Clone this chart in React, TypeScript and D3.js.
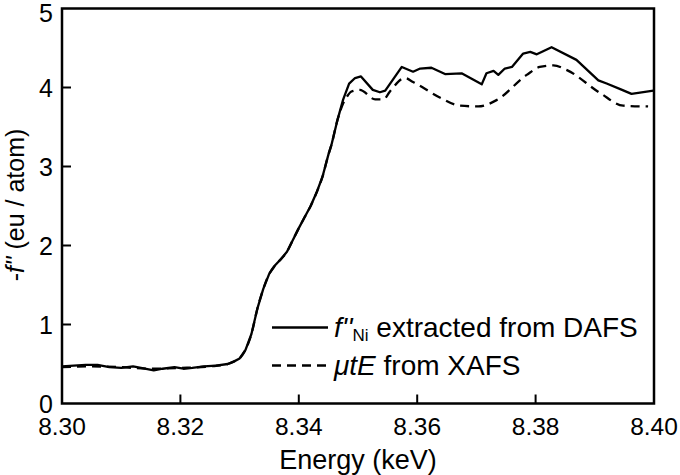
import React from "react";
import * as d3 from "d3";

const solidEnergy = [
  8.300, 8.302, 8.304, 8.306, 8.308, 8.310, 8.312, 8.314, 8.3155, 8.317, 8.319, 8.3205,
  8.322, 8.324, 8.326, 8.328, 8.329, 8.330, 8.331, 8.332, 8.333, 8.334, 8.335, 8.336,
  8.337, 8.338, 8.339, 8.340, 8.341, 8.342, 8.343, 8.344, 8.345, 8.3455, 8.3465, 8.3475,
  8.3485, 8.3495, 8.3505, 8.3525, 8.3537, 8.3546, 8.3574, 8.3593, 8.3605, 8.3624, 8.3647,
  8.3675, 8.3709, 8.3717, 8.3729, 8.3737, 8.3748, 8.3760, 8.3779, 8.3791, 8.3802, 8.3827,
  8.3869, 8.3906, 8.3920, 8.3943, 8.3962, 8.3999,
];
const solidValue = [
  0.47, 0.48, 0.49, 0.49, 0.46, 0.45, 0.47, 0.44, 0.42, 0.44, 0.46, 0.44,
  0.45, 0.47, 0.48, 0.50, 0.53, 0.57, 0.68, 0.88, 1.20, 1.45, 1.64, 1.75,
  1.83, 1.92, 2.07, 2.22, 2.36, 2.50, 2.67, 2.87, 3.15, 3.27, 3.58, 3.85,
  4.05, 4.12, 4.14, 3.97, 3.94, 3.96, 4.26, 4.20, 4.24, 4.25, 4.17,
  4.18, 4.04, 4.18, 4.21, 4.16, 4.24, 4.26, 4.43, 4.45, 4.42, 4.51,
  4.35, 4.09, 4.05, 3.98, 3.92, 3.96,
];

const dashedEnergy = [
  8.300, 8.305, 8.310, 8.315, 8.320, 8.325, 8.328, 8.329, 8.330, 8.331, 8.332, 8.333,
  8.334, 8.335, 8.336, 8.337, 8.338, 8.339, 8.340, 8.341, 8.342, 8.343, 8.344, 8.345,
  8.3455, 8.3465, 8.3475, 8.3481, 8.3489, 8.3503, 8.3529, 8.3543, 8.3554, 8.3579, 8.3593,
  8.3639, 8.3672, 8.3703, 8.3734, 8.3785, 8.3807, 8.3830, 8.3853, 8.3909, 8.3948, 8.3990,
];
const dashedValue = [
  0.46, 0.47, 0.46, 0.44, 0.45, 0.47, 0.50, 0.53, 0.57, 0.68, 0.88, 1.20,
  1.45, 1.64, 1.75, 1.83, 1.92, 2.07, 2.22, 2.36, 2.50, 2.67, 2.87, 3.15,
  3.27, 3.58, 3.80, 3.88, 3.95, 3.97, 3.85, 3.85, 3.95, 4.12, 4.07,
  3.87, 3.77, 3.76, 3.84, 4.16, 4.26, 4.28, 4.22, 3.93, 3.77, 3.76,
];

const xTicks = [8.30, 8.32, 8.34, 8.36, 8.38, 8.40];
const yTicks = [0, 1, 2, 3, 4, 5];

const W = 680;
const H = 475;
const left = 62;
const right = 654;
const top = 8.5;
const bottom = 403.5;
const FONT = "'Liberation Sans', Arial, Helvetica, sans-serif";

export default function App() {
  const x = d3.scaleLinear().domain([8.30, 8.40]).range([left, right]);
  const y = d3.scaleLinear().domain([0, 5]).range([bottom, top]);

  const line = d3
    .line<[number, number]>()
    .x((d) => x(d[0]))
    .y((d) => y(d[1]))
    .curve(d3.curveLinear);
  const smooth = d3
    .line<[number, number]>()
    .x((d) => x(d[0]))
    .y((d) => y(d[1]))
    .curve(d3.curveMonotoneX);

  const solidPts = solidEnergy.map((e, i) => [e, solidValue[i]] as [number, number]);
  const dashedPts = dashedEnergy.map((e, i) => [e, dashedValue[i]] as [number, number]);

  const tickLen = 9;

  return (
    <svg
      width={W}
      height={H}
      style={{ position: "absolute", left: 0, top: 0, background: "#fff" }}
      fontFamily={FONT}
    >
      <rect x={0} y={0} width={W} height={H} fill="#fff" />
      <path d={smooth(dashedPts) || ""} fill="none" stroke="#000" strokeWidth={2.3} strokeDasharray="9,6" />
      <path d={line(solidPts) || ""} fill="none" stroke="#000" strokeWidth={2.3} strokeLinejoin="round" />

      {/* frame */}
      <rect x={left} y={top} width={right - left} height={bottom - top} fill="none" stroke="#000" strokeWidth={2.5} />

      {xTicks.map((t, i) => (
        <g key={"x" + i}>
          {i > 0 && i < xTicks.length - 1 && (
            <line x1={x(t)} x2={x(t)} y1={bottom} y2={bottom - tickLen} stroke="#000" strokeWidth={2} />
          )}
          <text x={x(t)} y={435} textAnchor="middle" fontSize={24.5}>
            {t.toFixed(2)}
          </text>
        </g>
      ))}
      {yTicks.map((t, i) => (
        <g key={"y" + i}>
          {i > 0 && i < yTicks.length - 1 && (
            <line x1={left} x2={left + tickLen} y1={y(t)} y2={y(t)} stroke="#000" strokeWidth={2} />
          )}
          <text x={53} y={Math.max(y(t) + 9, 21.5)} textAnchor="end" fontSize={25}>
            {t}
          </text>
        </g>
      ))}

      <text x={358} y={469} textAnchor="middle" fontSize={27}>
        Energy (keV)
      </text>
      <text transform={`translate(24,${205}) rotate(-90)`} textAnchor="middle" fontSize={25}>
        -<tspan fontStyle="italic">f''</tspan> (eu / atom)
      </text>

      {/* legend */}
      <line x1={272} x2={328} y1={327.5} y2={327.5} stroke="#000" strokeWidth={2.3} />
      <line x1={272} x2={328} y1={365.5} y2={365.5} stroke="#000" strokeWidth={2.3} strokeDasharray="9,6" />
      <text x={334} y={337} fontSize={28}>
        <tspan fontStyle="italic">f''</tspan>
        <tspan fontSize={17} dy={4}>Ni</tspan>
        <tspan dy={-4}> extracted from DAFS</tspan>
      </text>
      <text x={334} y={375} fontSize={28}>
        <tspan fontStyle="italic">μtE</tspan> from XAFS
      </text>
    </svg>
  );
}
